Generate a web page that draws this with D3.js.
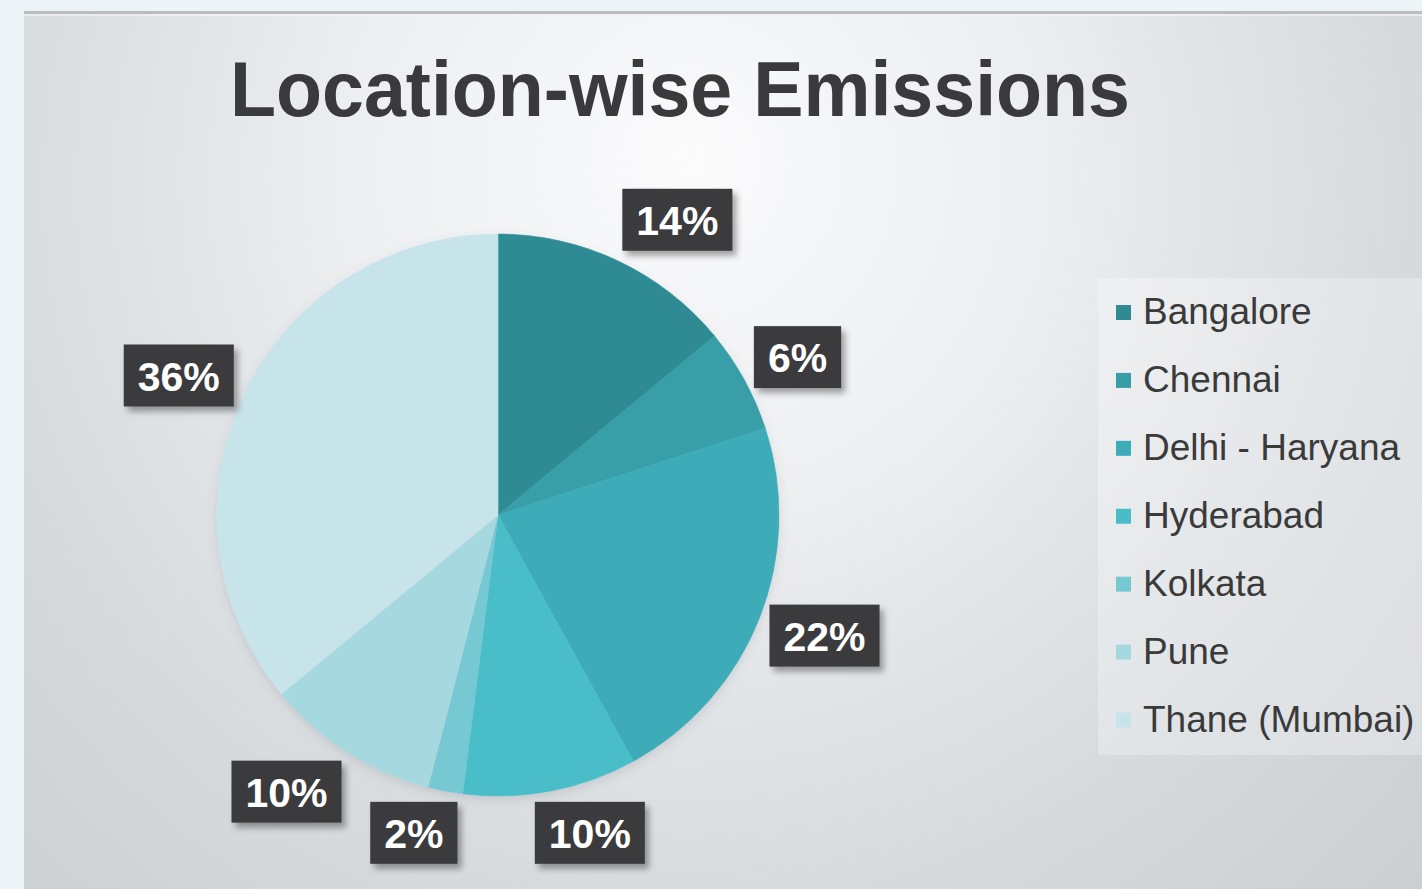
<!DOCTYPE html>
<html>
<head>
<meta charset="utf-8">
<script src="https://cdn.jsdelivr.net/npm/d3@7"></script>
<style>
  html, body { margin: 0; padding: 0; background: #edf4f7; }
  svg { display: block; }
</style>
</head>
<body>
<svg id="chart" width="1422" height="889"></svg>
<script>
// ---- data ----
const categories = ["Bangalore", "Chennai", "Delhi - Haryana", "Hyderabad", "Kolkata", "Pune", "Thane (Mumbai)"];
const values = [14, 6, 22, 10, 2, 10, 36];
const labels = ["14%", "6%", "22%", "10%", "2%", "10%", "36%"];
const palette = ["#2f8a93", "#379ea8", "#3eacb8", "#48bdc8", "#76c8d2", "#a6d8df", "#c7e4eb"];
const title = "Location-wise Emissions";

const W = 1422, H = 889;
const svg = d3.select("#chart");
const defs = svg.append("defs");

// panel background gradient
const rg = defs.append("radialGradient").attr("id", "bg")
  .attr("gradientUnits", "userSpaceOnUse")
  .attr("cx", 690).attr("cy", 200).attr("r", 1000)
  .attr("fx", 690).attr("fy", 160);
rg.append("stop").attr("offset", 0).attr("stop-color", "#fbfbfc");
rg.append("stop").attr("offset", 0.35).attr("stop-color", "#eceef0");
rg.append("stop").attr("offset", 0.7).attr("stop-color", "#d7dbde");
rg.append("stop").attr("offset", 1).attr("stop-color", "#cbcfd2");

const shadow = defs.append("filter").attr("id", "lblShadow")
  .attr("x", "-20%").attr("y", "-20%").attr("width", "150%").attr("height", "160%");
shadow.append("feDropShadow").attr("dx", 4).attr("dy", 5).attr("stdDeviation", 3)
  .attr("flood-color", "#000").attr("flood-opacity", 0.35);

const pieShadow = defs.append("filter").attr("id", "pieShadow")
  .attr("x", "-10%").attr("y", "-10%").attr("width", "120%").attr("height", "125%");
pieShadow.append("feDropShadow").attr("dx", 0).attr("dy", 4).attr("stdDeviation", 5)
  .attr("flood-color", "#5a6770").attr("flood-opacity", 0.18);

// panel
svg.append("rect").attr("x", 24).attr("y", 11).attr("width", W - 24).attr("height", H - 11)
  .attr("fill", "url(#bg)");
svg.append("rect").attr("x", 24).attr("y", 11).attr("width", W - 24).attr("height", 3)
  .attr("fill", "#b9bdc0");
svg.append("rect").attr("x", 24).attr("y", 14).attr("width", W - 24).attr("height", 2)
  .attr("fill", "#f2f4f5").attr("opacity", 0.7);

// title
svg.append("text")
  .attr("x", 680).attr("y", 116)
  .attr("text-anchor", "middle")
  .attr("font-family", "'Liberation Sans', Arial, sans-serif")
  .attr("font-weight", "bold")
  .attr("font-size", 77)
  .attr("fill", "#3a3a3c")
  .attr("textLength", 900)
  .attr("lengthAdjust", "spacingAndGlyphs")
  .text(title);

// pie
const cx = 498, cy = 515, r = 281;
const data = categories.map((c, i) => ({ name: c, value: values[i], label: labels[i], color: palette[i] }));
const pie = d3.pie().sort(null).value(d => d.value).startAngle(0).endAngle(2 * Math.PI);
const arcs = pie(data);
const arc = d3.arc().innerRadius(0).outerRadius(r);

const g = svg.append("g").attr("transform", `translate(${cx},${cy})`);
g.append("g").attr("filter", "url(#pieShadow)")
  .selectAll("path").data(arcs).join("path")
  .attr("d", arc)
  .attr("fill", d => d.data.color)
  .attr("stroke", d => d.data.color)
  .attr("stroke-width", 0.6);

// labels (outside end)
const boxH = 62, pad = 14, gap = 11, kx = 3.6, ky = 1.15;
const clamp = t => Math.max(-1, Math.min(1, t));
const lg = g.append("g");
arcs.forEach(a => {
  const mid = (a.startAngle + a.endAngle) / 2;
  const ux = Math.sin(mid), uy = -Math.cos(mid);
  const grp = lg.append("g");
  const t = grp.append("text")
    .attr("font-family", "'Liberation Sans', Arial, sans-serif")
    .attr("font-weight", "bold")
    .attr("font-size", 41)
    .attr("fill", "#ffffff")
    .attr("text-anchor", "middle")
    .attr("dominant-baseline", "central")
    .text(a.data.label);
  const tw = t.node().getComputedTextLength();
  const bw = tw + pad * 2;
  const R = r + gap;
  const px = R * ux, py = R * uy;
  const bx = px + (bw / 2) * clamp(ux * kx);
  const by = py + (boxH / 2) * clamp(uy * ky);
  grp.insert("rect", "text")
    .attr("x", bx - bw / 2).attr("y", by - boxH / 2)
    .attr("width", bw).attr("height", boxH)
    .attr("fill", "#3b3b3c")
    .attr("filter", "url(#lblShadow)");
  t.attr("x", bx).attr("y", by + 1);
});

// legend
const legX = 1098, legY = 278, legW = W - legX, legH = 477;
svg.append("rect").attr("x", legX).attr("y", legY).attr("width", legW).attr("height", legH)
  .attr("fill", "#ffffff").attr("opacity", 0.28);
const rowY = d3.scalePoint().domain(categories).range([324, 731.5]);
const leg = svg.append("g");
const items = leg.selectAll("g").data(data).join("g")
  .attr("transform", d => `translate(0,${rowY(d.name)})`);
items.append("rect")
  .attr("x", 1116).attr("y", -19).attr("width", 15).attr("height", 15)
  .attr("fill", d => d.color);
items.append("text")
  .attr("x", 1143).attr("y", 0)
  .attr("font-family", "'Liberation Sans', Arial, sans-serif")
  .attr("font-size", 37)
  .attr("fill", "#3a3a3a")
  .text(d => d.name);
</script>
</body>
</html>
